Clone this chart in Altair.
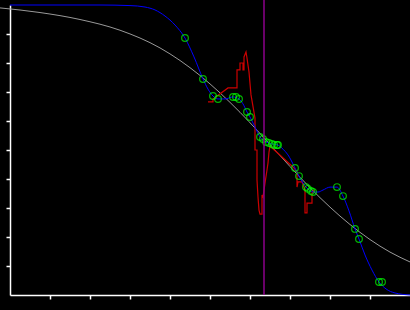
import altair as alt
import pandas as pd

# Gray reference curve
gray_x = [-0.25, 0.75, 1.75, 2.75, 3.75, 4.75, 5.25, 5.75, 6.625, 7.0, 7.5, 8.0, 8.5, 9.5, 10.0]
gray_y = [9.90, 9.74, 9.50, 9.13, 8.52, 7.57, 6.97, 6.30, 5.00, 4.43, 3.70, 3.03, 2.43, 1.48, 1.14]

# Blue fitted curve
blue_x = [0, 1.25, 2.25, 3.0, 3.375, 3.625, 3.875, 4.125, 4.375, 4.6, 4.825, 4.95, 5.075, 5.2, 5.375,
          5.575, 5.65, 5.725, 5.825, 5.925, 6.0, 6.125, 6.25, 6.4, 6.55, 6.7, 6.825, 6.95, 7.125,
          7.225, 7.325, 7.4, 7.5, 7.575, 7.7, 7.825, 8.0, 8.175, 8.325, 8.475, 8.625, 8.725, 8.875,
          9.05, 9.225, 9.4, 9.625, 10.0]
blue_y = [10.0, 10.0, 10.0, 9.98, 9.93, 9.83, 9.62, 9.31, 8.86, 8.21, 7.45, 7.10, 6.86, 6.76, 6.76,
          6.83, 6.81, 6.76, 6.59, 6.31, 6.14, 5.79, 5.45, 5.28, 5.21, 5.17, 5.03, 4.83, 4.38,
          4.10, 3.86, 3.72, 3.60, 3.55, 3.55, 3.62, 3.72, 3.72, 3.41, 2.90, 2.28, 1.93, 1.38,
          0.86, 0.45, 0.21, 0.07, 0.0]

# Green sample points
pts_x = [4.375, 4.825, 5.075, 5.2, 5.575, 5.65, 5.725, 5.925, 6.0, 6.25, 6.325, 6.4, 6.475, 6.55,
         6.6, 6.675, 6.7, 7.125, 7.225, 7.4, 7.45, 7.525, 7.575, 8.175, 8.325, 8.625, 8.725, 9.225, 9.3]
pts_y = [8.86, 7.45, 6.86, 6.76, 6.83, 6.83, 6.76, 6.31, 6.14, 5.45, 5.38, 5.28, 5.24, 5.21,
         5.17, 5.17, 5.17, 4.38, 4.10, 3.72, 3.66, 3.59, 3.55, 3.72, 3.41, 2.28, 1.93, 0.45, 0.45]

# Red jagged series
red_x = [4.95, 5.075, 5.075, 5.45, 5.675, 5.675, 5.75, 5.75, 5.825, 5.825, 5.85, 5.85, 5.9, 5.925,
         5.975, 6.025, 6.125, 6.125, 6.175, 6.175, 6.2, 6.225, 6.25, 6.3, 6.3, 6.325, 6.375, 6.425,
         6.45, 6.475, 6.5, 7.1, 7.175, 7.175, 7.2, 7.3, 7.375, 7.375, 7.425, 7.425, 7.55, 7.55, 7.6]
red_y = [6.66, 6.66, 6.76, 7.14, 7.14, 7.76, 7.76, 8.0, 8.0, 7.76, 7.76, 8.21, 8.38, 8.17,
         7.69, 6.90, 6.10, 5.0, 5.0, 3.97, 3.38, 2.93, 2.79, 2.79, 3.45, 3.38, 3.86, 4.31,
         4.55, 4.93, 5.14, 4.38, 4.24, 3.72, 3.90, 3.90, 3.62, 2.83, 2.83, 3.17, 3.17, 3.52, 3.62]

# Purple vertical marker
vline_x = [6.35, 6.35]
vline_y = [0.0, 10.17]

tick_vals = [1, 2, 3, 4, 5, 6, 7, 8, 9]

gray_df = pd.DataFrame({"x": gray_x, "y": gray_y, "i": range(len(gray_x))})
blue_df = pd.DataFrame({"x": blue_x, "y": blue_y, "i": range(len(blue_x))})
pts_df = pd.DataFrame({"x": pts_x, "y": pts_y})
red_df = pd.DataFrame({"x": red_x, "y": red_y, "i": range(len(red_x))})
vl_df = pd.DataFrame({"x": vline_x, "y": vline_y, "i": [0, 1]})

xs = alt.Scale(domain=[0, 10], nice=False, zero=False)
ys = alt.Scale(domain=[0, 10], nice=False, zero=False)


def mkaxis():
    return alt.Axis(values=tick_vals, labels=False, labelOverlap=False, title=None, grid=False,
                    domainColor="white", tickColor="white", tickSize=4, tickWidth=1.5,
                    domainWidth=1.5, tickCount=10)


X = alt.X("x:Q", scale=xs, axis=mkaxis())
Y = alt.Y("y:Q", scale=ys, axis=mkaxis())

gray = alt.Chart(gray_df).mark_line(color="#999999", strokeWidth=1, interpolate="monotone", clip=False).encode(
    x=X, y=Y, order="i:Q")
blue = alt.Chart(blue_df).mark_line(color="#0000ff", strokeWidth=1, interpolate="monotone").encode(
    x=alt.X("x:Q", scale=xs), y=alt.Y("y:Q", scale=ys), order="i:Q")
red = alt.Chart(red_df).mark_line(color="#cc0000", strokeWidth=1.2).encode(
    x=alt.X("x:Q", scale=xs), y=alt.Y("y:Q", scale=ys), order="i:Q")
pts = alt.Chart(pts_df).mark_point(shape="circle", filled=False, color="#00ff00", size=45, strokeWidth=1.2).encode(
    x=alt.X("x:Q", scale=xs), y=alt.Y("y:Q", scale=ys))
vline = alt.Chart(vl_df).mark_line(color="#8b008b", strokeWidth=1.5, clip=False).encode(
    x=alt.X("x:Q", scale=xs), y=alt.Y("y:Q", scale=ys), order="i:Q")

chart = alt.layer(gray, red, blue, pts, vline).properties(
    width=400, height=290,
    autosize=alt.AutoSizeParams(type="none"),
    padding={"left": 10, "top": 5, "right": 0, "bottom": 15},
    background="black",
).configure_view(stroke=None)

chart.save("out.html", embed_options={"renderer": "svg", "actions": False})
